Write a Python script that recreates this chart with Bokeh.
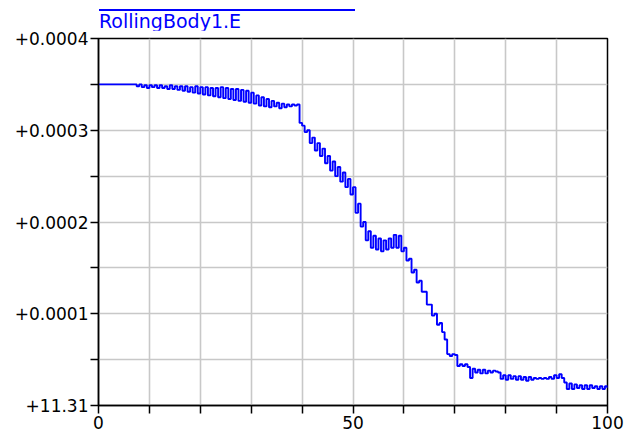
from bokeh.plotting import figure
from bokeh.models import FixedTicker, Div
from bokeh.layouts import column
from bokeh.embed import file_html
from bokeh.resources import INLINE

# x values (time) and E offset from 11.31 in units of 1e-4
x_vals = [i * 0.5 for i in range(201)]
e_offset_1e4 = [
    3.50, 3.50, 3.50, 3.50, 3.50, 3.50, 3.50, 3.50, 3.50, 3.50, 3.50, 3.50, 3.50, 3.50, 3.50,
    3.48, 3.50, 3.47, 3.49, 3.46, 3.49, 3.47, 3.49, 3.46, 3.49, 3.46, 3.48, 3.45, 3.49, 3.45,
    3.48, 3.44, 3.48, 3.43, 3.48, 3.42, 3.47, 3.41, 3.48, 3.40, 3.47,
    3.39, 3.47, 3.38, 3.46, 3.37, 3.46, 3.36, 3.47, 3.35, 3.46, 3.34, 3.45, 3.33, 3.45, 3.32,
    3.44, 3.31, 3.43, 3.30, 3.41,
    3.29, 3.38, 3.27, 3.36, 3.26, 3.34, 3.25, 3.32, 3.26, 3.30,
    3.24, 3.29, 3.25, 3.28, 3.26, 3.28, 3.27, 3.28,
    3.08, 3.05, 2.98, 3.00, 2.86, 2.92, 2.78, 2.86, 2.72, 2.80, 2.64, 2.72, 2.56, 2.66, 2.50,
    2.60, 2.44, 2.54, 2.38, 2.47, 2.30, 2.38, 2.10, 2.20, 1.95, 2.00, 1.80, 1.90, 1.72, 1.85,
    1.70, 1.82, 1.68, 1.80, 1.70, 1.82, 1.72, 1.86, 1.72, 1.85, 1.68, 1.72, 1.58, 1.60, 1.45,
    1.48, 1.34, 1.36, 1.24, 1.24, 1.10, 1.10, 0.98, 1.00, 0.88, 0.90, 0.80, 0.72, 0.56, 0.54,
    0.56, 0.55, 0.43, 0.45, 0.43, 0.45, 0.42, 0.30, 0.40, 0.36, 0.39, 0.35, 0.39, 0.35, 0.38,
    0.36, 0.38, 0.37, 0.36, 0.29, 0.33, 0.28, 0.33, 0.29, 0.32, 0.28, 0.32, 0.28, 0.31, 0.27,
    0.31, 0.28, 0.30, 0.29, 0.30, 0.29, 0.30, 0.29, 0.31, 0.29, 0.33, 0.30, 0.34, 0.30, 0.25,
    0.18, 0.24, 0.18, 0.23, 0.19, 0.22, 0.18, 0.22, 0.18, 0.22, 0.19, 0.21, 0.18, 0.21, 0.18,
    0.21, 0.19,
]

y_ticks = [0, 1, 2, 3, 4]
y_minor = [0.5, 1.5, 2.5, 3.5]
y_tick_labels = {0: "+11.31", 1: "+0.0001", 2: "+0.0002", 3: "+0.0003", 4: "+0.0004"}
x_ticks = [0, 50, 100]
x_minor = [10, 20, 30, 40, 60, 70, 80, 90]
series_name = "RollingBody1.E"

FONT = "DejaVu Sans"

header = Div(
    text=('<div style="position:absolute; left:99px; top:9px; width:256px; '
          'border-top:2px solid #0000ff; color:#0000ff; '
          "font-family:'DejaVu Sans'; font-size:19px; line-height:19px; padding-top:1px;\">"
          + series_name + '</div>'),
    width=631, height=30, margin=0,
)

p = figure(width=631, height=411, output_backend="svg", toolbar_location=None,
           x_range=(0, 100), y_range=(0, 4), margin=0,
           min_border_left=98, min_border_right=24, min_border_top=8, min_border_bottom=36)
p.background_fill_color = "white"
p.border_fill_color = "white"
p.outline_line_color = "black"
p.outline_line_width = 1.5

p.step(x_vals, e_offset_1e4, mode="after", line_color="#0000ff", line_width=1.9)

# grids
p.xgrid.ticker = FixedTicker(ticks=sorted(x_ticks + x_minor))
p.ygrid.ticker = FixedTicker(ticks=sorted(y_ticks + y_minor))
for g in (p.xgrid, p.ygrid):
    g.grid_line_color = "#c8c8c8"
    g.grid_line_width = 1.6

# axes
p.yaxis.ticker = FixedTicker(ticks=y_ticks, minor_ticks=y_minor)
p.yaxis.major_label_overrides = y_tick_labels
p.xaxis.ticker = FixedTicker(ticks=x_ticks, minor_ticks=x_minor)
for ax in (p.xaxis[0], p.yaxis[0]):
    ax.axis_line_color = "black"
    ax.axis_line_width = 1.5
    ax.major_tick_line_color = "black"
    ax.minor_tick_line_color = "black"
    ax.major_tick_line_width = 1.5
    ax.minor_tick_line_width = 1.5
    ax.major_tick_in = 0
    ax.minor_tick_in = 0
    ax.major_tick_out = 8
    ax.minor_tick_out = 8
    ax.major_label_text_font = FONT
    ax.major_label_text_font_size = "17px"
    ax.major_label_text_color = "black"
    ax.major_label_standoff = 2

layout = column(header, p, spacing=0, margin=0)

open("out.html", "w").write(file_html(layout, INLINE))
